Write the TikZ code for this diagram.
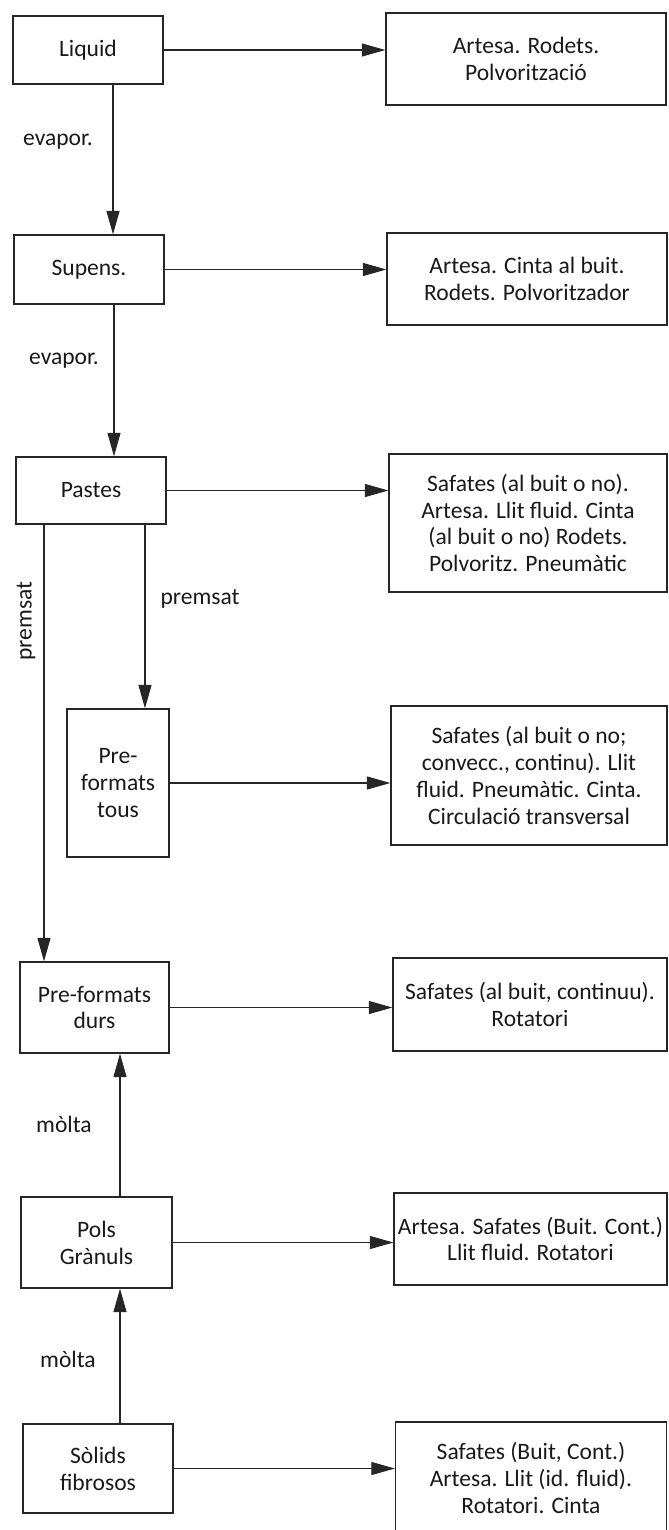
\documentclass[tikz,border=0pt]{standalone}
\usepackage{fontspec}
\setmainfont{Carlito}
\usetikzlibrary{arrows.meta}

\begin{document}
\begin{tikzpicture}[
    box/.style={draw=black!85, line width=0.7pt, align=center, inner sep=1pt,
        font=\fontsize{13.4}{15.3}\selectfont, text=black!90},
    arr/.style={draw=black!85, line width=0.6pt, -{Triangle[length=0.47cm,width=0.26cm]}},
    lbl/.style={font=\fontsize{13.4}{15.3}\selectfont, text=black!90}
]

    \useasboundingbox (0,0) rectangle (13.36,-30.6);

    % States of the product (left column)
    \node[box, minimum width=3cm, minimum height=1.36cm] (liquid) at (1.76,-1.00) {Liquid};
    \node[box, minimum width=3cm, minimum height=1.38cm] (supens) at (1.78,-5.39) {Supens.};
    \node[box, minimum width=3cm, minimum height=1.34cm] (pastes) at (1.82,-9.81) {Pastes};
    \node[box, minimum width=2.04cm, minimum height=2.96cm] (pretous) at (2.36,-15.66) {Pre-\\formats\\tous};
    \node[box, minimum width=2.98cm, minimum height=1.82cm] (predurs) at (1.89,-20.15) {Pre-formats\\durs};
    \node[box, minimum width=3.02cm, minimum height=1.82cm] (pols) at (1.93,-24.85) {Pols\\Gr\`anuls};
    \node[box, minimum width=3cm, minimum height=1.78cm] (solids) at (1.96,-29.37) {S\`olids\\fibrosos};

    % Dryers (right column)
    \node[box, minimum width=5.6cm, minimum height=1.84cm] (assec1) at (10.52,-1.18) {Artesa. Rodets.\\Polvoritzaci\'o};
    \node[box, minimum width=5.6cm, minimum height=1.84cm] (assec2) at (10.54,-5.58) {Artesa. Cinta al buit.\\Rodets. Polvoritzador};
    \node[box, minimum width=5.56cm, minimum height=2.76cm] (assec3) at (10.56,-10.46) {Safates (al buit o no).\\Artesa. Llit fluid. Cinta\\(al buit o no) Rodets.\\Polvoritz. Pneum\`atic};
    \node[box, minimum width=5.52cm, minimum height=2.78cm] (assec4) at (10.58,-15.51) {Safates (al buit o no;\\convecc., continu). Llit\\fluid. Pneum\`atic. Cinta.\\Circulaci\'o transversal};
    \node[box, minimum width=5.48cm, minimum height=1.86cm] (assec5) at (10.60,-20.09) {Safates (al buit, continuu).\\Rotatori};
    \node[box, minimum width=5.46cm, minimum height=1.84cm] (assec6) at (10.61,-24.78) {Artesa. Safates (Buit. Cont.)\\Llit fluid. Rotatori};
    \node[box, minimum width=5.42cm, minimum height=2.24cm] (assec7) at (10.62,-29.56) {Safates (Buit, Cont.)\\Artesa. Llit (id. fluid).\\Rotatori. Cinta};

    % Horizontal arrows
    \draw[arr] (liquid.east) -- (liquid.east -| assec1.west);
    \draw[arr] (supens.east) -- (supens.east -| assec2.west);
    \draw[arr] (pastes.east) -- (pastes.east -| assec3.west);
    \draw[arr] (pretous.east) -- (pretous.east -| assec4.west);
    \draw[arr] (predurs.east) -- (predurs.east -| assec5.west);
    \draw[arr] (pols.east) -- (pols.east -| assec6.west);
    \draw[arr] (solids.east) -- (solids.east -| assec7.west);

    % Vertical arrows
    \draw[arr] ([xshift=0.5cm]liquid.south) -- ([xshift=0.5cm]liquid.south |- supens.north);
    \draw[arr] ([xshift=0.5cm]supens.south) -- ([xshift=0.5cm]supens.south |- pastes.north);
    \draw[arr] ([xshift=1.08cm]pastes.south) -- ([xshift=1.08cm]pastes.south |- pretous.north);
    \draw[arr] ([xshift=-0.94cm]pastes.south) -- ([xshift=-0.94cm]pastes.south |- predurs.north);
    \draw[arr] ([xshift=0.47cm]pols.north) -- ([xshift=0.47cm]pols.north |- predurs.south);
    \draw[arr] ([xshift=0.44cm]solids.north) -- ([xshift=0.44cm]solids.north |- pols.south);

    % Labels
    \node[lbl] (ev1) at (1.16,-2.84) {evapor.};
    \node[lbl] (ev2) at (1.28,-7.22) {evapor.};
    \node[lbl, rotate=90] (pr1) at (0.52,-12.42) {premsat};
    \node[lbl] (pr2) at (4.0,-11.98) {premsat};
    \node[lbl] (mo1) at (1.28,-22.48) {m\`olta};
    \node[lbl] (mo2) at (1.36,-27.18) {m\`olta};

\end{tikzpicture}
\end{document}
